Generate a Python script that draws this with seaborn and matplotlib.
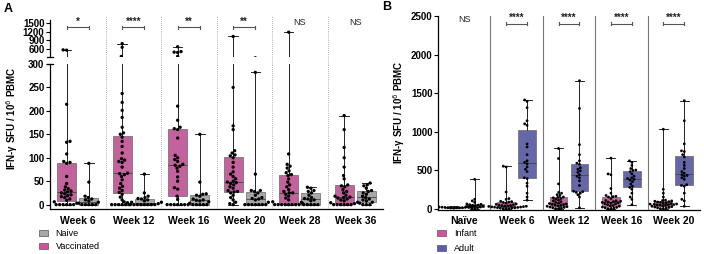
import numpy as np
import pandas as pd
import matplotlib
matplotlib.use('Agg')
import matplotlib.pyplot as plt
import matplotlib.transforms as mtransforms
from matplotlib.patches import Patch
import seaborn as sns

# ---- panel A: infant vaccinated vs naive, IFN-g SFU / 10^6 PBMC ----
weeks_a = ['Week 6', 'Week 12', 'Week 16', 'Week 20', 'Week 28', 'Week 36']
vacc_a = [
    [0]*6 + [3, 6, 9, 12, 15, 17, 19, 21, 23, 25, 27, 29, 31, 34, 38, 45, 60, 88, 90, 92, 108, 133, 135, 214, 550, 560],
    [0]*6 + [5, 10, 16, 22, 26, 30, 35, 39, 45, 53, 60, 64, 66, 67, 80, 90, 92, 95, 98, 110, 124, 135, 144, 150, 153,
             165, 186, 201, 218, 237, 330, 650, 780],
    [0]*7 + [11, 18, 33, 36, 50, 59, 71, 78, 82, 84, 86, 92, 96, 100, 105, 142, 160, 162, 165, 180, 210, 330, 470, 480,
             500, 670],
    [0, 2, 5, 10, 15, 20, 25, 27, 28, 30, 35, 38, 42, 45, 47, 48, 50, 55, 60, 65, 70, 80, 90, 100, 104, 106, 110, 115,
     160, 168, 250, 1030],
    [0]*8 + [3, 6, 10, 14, 18, 22, 25, 25, 28, 32, 38, 42, 48, 55, 62, 64, 68, 72, 78, 82, 86, 108, 1180],
    [0]*6 + [2, 4, 5, 8, 10, 12, 14, 15, 16, 18, 20, 25, 28, 32, 38, 40, 42, 55, 62, 80, 100, 122, 160, 190],
]
naive_a = [
    [0]*5 + [3, 5, 8, 10, 12, 15, 18, 48, 88],
    [0]*8 + [2, 4, 5, 6, 8, 10, 12, 13, 15, 18, 25, 65],
    [0]*5 + [3, 6, 8, 9, 10, 12, 18, 20, 22, 23, 48, 150],
    [0]*7 + [5, 10, 12, 13, 15, 20, 25, 28, 30, 30, 65, 282],
    [0]*5 + [5, 8, 10, 12, 13, 15, 20, 25, 28, 30, 35, 37],
    [0]*3 + [3, 5, 8, 10, 12, 15, 18, 22, 25, 28, 30, 35, 40, 42, 46],
]
sig_a = ['*', '****', '**', '**', 'NS', 'NS']

# ---- panel B: infant vs adult ----
groups_b = ['Naïve', 'Week 6', 'Week 12', 'Week 16', 'Week 20']
infant_b = [
    [5, 8, 10, 10, 12, 12, 15, 15, 18, 20, 20, 22, 25, 28],
    [0, 0, 0, 5, 8, 10, 12, 15, 18, 20, 22, 25, 28, 30, 32, 35, 38, 40, 45, 50, 55, 60, 70, 80, 85, 90, 95, 120, 130,
     215, 540, 550],
    [0, 0, 5, 10, 15, 20, 25, 30, 35, 40, 45, 50, 55, 60, 65, 70, 80, 90, 100, 110, 120, 130, 140, 145, 150, 170, 180,
     200, 210, 320, 650, 780],
    [0, 0, 5, 10, 15, 20, 30, 35, 40, 50, 60, 65, 70, 75, 80, 85, 90, 95, 100, 105, 130, 150, 155, 160, 170, 200, 260,
     440, 450, 655],
    [0, 0, 5, 10, 15, 20, 25, 30, 35, 40, 45, 48, 50, 52, 55, 58, 60, 65, 70, 75, 80, 85, 90, 95, 100, 105, 110, 150,
     200, 250, 1030],
]
adult_b = [
    [0, 5, 10, 15, 20, 25, 30, 35, 40, 45, 50, 55, 60, 80, 100, 120, 380],
    [110, 150, 200, 290, 330, 390, 400, 480, 510, 540, 580, 600, 620, 700, 800, 840, 1080, 1100, 1140, 1310, 1390, 1410],
    [10, 150, 180, 200, 210, 220, 225, 300, 360, 400, 420, 440, 470, 490, 510, 530, 575, 590, 620, 700, 830, 1300, 1660],
    [50, 120, 150, 200, 250, 275, 290, 320, 350, 370, 380, 390, 400, 420, 450, 480, 495, 500, 520, 560, 600, 620],
    [30, 100, 120, 200, 290, 300, 310, 380, 400, 420, 430, 440, 460, 480, 520, 560, 600, 670, 700, 740, 750, 840, 1140,
     1400],
]
sig_b = ['NS', '****', '****', '****', '****']

PINK = '#D3529F'
GRAY = '#A8A8A8'
BLUE = '#5A5DB3'

rows = []
for w, v, n in zip(weeks_a, vacc_a, naive_a):
    rows += [(w, 'Vaccinated', x) for x in v]
    rows += [(w, 'Naive', x) for x in n]
df_a = pd.DataFrame(rows, columns=['week', 'group', 'sfu'])

rows = []
for g, i, a in zip(groups_b, infant_b, adult_b):
    rows += [(g, 'Infant', x) for x in i]
    rows += [(g, 'Adult', x) for x in a]
df_b = pd.DataFrame(rows, columns=['week', 'group', 'sfu'])

plt.rcParams['font.family'] = ['Liberation Sans', 'DejaVu Sans']
W, H = 704, 254
fig = plt.figure(figsize=(W / 100, H / 100), dpi=100)


def fx(px):
    return px / W


def fy(px):
    return 1 - px / H


box_kw = dict(whis=(0, 100), showfliers=False, width=0.8, gap=0.15, legend=False,
              whiskerprops={'color': 'black', 'linewidth': 0.6},
              capprops={'color': 'black', 'linewidth': 0.6},
              medianprops={'color': '#444444', 'linewidth': 0.6},
              boxprops={'edgecolor': '#666666', 'linewidth': 0.5})


def draw(ax, df, order, hue_order, pal, size):
    sns.boxplot(data=df, x='week', y='sfu', hue='group', order=order, hue_order=hue_order,
                palette=pal, dodge=True, ax=ax, **box_kw)
    sns.swarmplot(data=df, x='week', y='sfu', hue='group', order=order, hue_order=hue_order,
                  palette=['black', 'black'], dodge=True, size=size, legend=False,
                  warn_thresh=1, ax=ax)


def boldticks(ax):
    for lab in ax.get_yticklabels() + ax.get_xticklabels():
        lab.set_fontweight('bold')


# panel A: broken axis
axA_lo = fig.add_axes([fx(50), fy(209.3), fx(333), (209.3 - 63.5) / H])
axA_hi = fig.add_axes([fx(50), fy(57.0), fx(333), (57.0 - 19.5) / H])
for ax in (axA_lo, axA_hi):
    draw(ax, df_a, weeks_a, ['Vaccinated', 'Naive'], [PINK, GRAY], 2.4)
    ax.set_xlim(-0.5, len(weeks_a) - 0.5)
    ax.set_xlabel('')
    ax.set_ylabel('')
    ax.spines[['top', 'right']].set_visible(False)
    ax.tick_params(axis='y', length=3, width=0.8, labelsize=7, pad=1)
    ax.tick_params(axis='x', length=0, labelsize=7.5, pad=5)
    for s in ax.spines.values():
        s.set_linewidth(0.9)

axA_lo.set_ylim(-10, 301)
axA_lo.set_yticks([0, 50, 100, 150, 200, 250, 300])
boldticks(axA_lo)
axA_hi.set_ylim(310, 1625)
axA_hi.set_yticks([600, 900, 1200, 1500])
boldticks(axA_hi)
axA_hi.spines['bottom'].set_visible(False)
axA_hi.set_xticks([])
axA_hi.patch.set_alpha(0)
# break caps on the two spine ends
axA_hi.plot([-0.009, 0.009], [0, 0], transform=axA_hi.transAxes, color='black', lw=0.9, clip_on=False)
axA_lo.plot([-0.009, 0.009], [1, 1], transform=axA_lo.transAxes, color='black', lw=0.9, clip_on=False)

for k in range(len(weeks_a) - 1):
    axA_lo.axvline(k + 0.5, color='#9a9a9a', lw=0.6, ls=(0, (1, 1.5)), zorder=0)
    axA_hi.axvline(k + 0.5, color='#9a9a9a', lw=0.6, ls=(0, (1, 1.5)), ymin=-0.2, ymax=1.12,
                   clip_on=False, zorder=0)

fig.text(fx(12), fy(118), 'IFN-γ SFU / 10$^6$ PBMC', rotation=90, ha='center', va='center',
         fontsize=7, fontweight='bold')

# panel B
axB = fig.add_axes([fx(438), fy(209.5), fx(262), (209.5 - 16) / H])
draw(axB, df_b, groups_b, ['Infant', 'Adult'], [PINK, BLUE], 2.0)
axB.set_xlim(-0.5, len(groups_b) - 0.5)
axB.set_ylim(-12, 2500)
axB.set_yticks([0, 500, 1000, 1500, 2000, 2500])
axB.set_xlabel('')
axB.set_ylabel('IFN-γ SFU / 10$^6$ PBMC', fontsize=7, fontweight='bold', labelpad=3)
axB.spines[['top', 'right']].set_visible(False)
for s in axB.spines.values():
    s.set_linewidth(0.9)
axB.tick_params(axis='y', length=3, width=0.8, labelsize=7, pad=1)
axB.tick_params(axis='x', length=0, labelsize=7.5, pad=5)
boldticks(axB)
for k in range(len(groups_b) - 1):
    axB.axvline(k + 0.5, color='#777777', lw=0.8, zorder=0)


# significance marks
def sig(ax, labels, y_bar, y_txt, col):
    tr = mtransforms.blended_transform_factory(ax.transData, fig.transFigure)
    for i, s in enumerate(labels):
        if s == 'NS':
            ax.text(i, fy(y_txt + 1), s, transform=tr, ha='center', va='center', fontsize=6.5,
                    color='#222222')
            continue
        x0, x1 = i - 0.2, i + 0.2
        yb = fy(y_bar)
        ax.plot([x0, x1], [yb, yb], transform=tr, color=col, lw=0.8, clip_on=False)
        for xe in (x0, x1):
            ax.plot([xe, xe], [fy(y_bar - 1.6), fy(y_bar + 1.6)], transform=tr, color=col,
                    lw=0.8, clip_on=False)
        ax.text(i, fy(y_txt), s, transform=tr, ha='center', va='center', fontsize=7,
                fontweight='bold', color='#222222')


sig(axA_hi, sig_a, 27.3, 21.5, '#555555')
sig(axB, sig_b, 23.5, 18, '#555555')

# legends
leg_kw = dict(loc='upper left', frameon=False, fontsize=6.5, handlelength=0.95, handleheight=0.7,
              handletextpad=0.9, borderaxespad=0, borderpad=0)
fig.legend(handles=[Patch(facecolor=GRAY, edgecolor='#555555', lw=0.5, label='Naive'),
                    Patch(facecolor=PINK, edgecolor='#555555', lw=0.5, label='Vaccinated')],
           bbox_to_anchor=(fx(39), fy(229)), labelspacing=0.45, **leg_kw)
fig.legend(handles=[Patch(facecolor=PINK, edgecolor='#555555', lw=0.5, label='Infant'),
                    Patch(facecolor=BLUE, edgecolor='#555555', lw=0.5, label='Adult')],
           bbox_to_anchor=(fx(437), fy(229)), labelspacing=0.65, **leg_kw)

fig.text(fx(4), fy(9), 'A', fontsize=9, fontweight='bold', va='center')
fig.text(fx(382), fy(7), 'B', fontsize=9, fontweight='bold', va='center')

fig.savefig('out.png', dpi=100)
